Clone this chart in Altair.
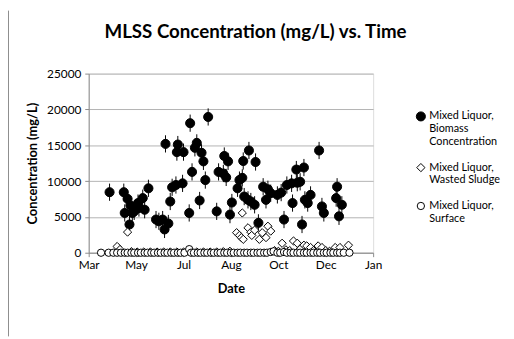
import altair as alt
import pandas as pd

# ---------------- data ----------------
bio_dates = [
    "2009-04-19", "2009-05-04", "2009-05-05", "2009-05-08", "2009-05-10", "2009-05-11",
    "2009-05-13", "2009-05-15", "2009-05-19", "2009-05-20", "2009-05-24", "2009-05-26",
    "2009-05-30", "2009-06-07", "2009-06-10", "2009-06-14", "2009-06-16", "2009-06-17",
    "2009-06-20", "2009-06-22", "2009-06-24", "2009-06-28", "2009-06-29", "2009-06-30",
    "2009-07-05", "2009-07-06", "2009-07-12", "2009-07-13", "2009-07-15", "2009-07-18",
    "2009-07-20", "2009-07-23", "2009-07-25", "2009-07-27", "2009-07-29", "2009-08-01",
    "2009-08-10", "2009-08-12", "2009-08-17", "2009-08-18", "2009-08-20", "2009-08-22",
    "2009-08-24", "2009-08-26", "2009-09-01", "2009-09-03", "2009-09-06", "2009-09-07",
    "2009-09-08", "2009-09-12", "2009-09-13", "2009-09-15", "2009-09-19", "2009-09-20",
    "2009-09-23", "2009-09-28", "2009-10-01", "2009-10-03", "2009-10-06", "2009-10-13",
    "2009-10-17", "2009-10-20", "2009-10-23", "2009-10-28", "2009-10-29", "2009-11-02",
    "2009-11-03", "2009-11-06", "2009-11-08", "2009-11-10", "2009-11-11", "2009-11-14",
    "2009-11-17", "2009-11-26", "2009-11-29", "2009-12-01", "2009-12-14", "2009-12-15",
    "2009-12-17", "2009-12-20",
]
bio_values = [
    8450, 8450, 5550, 7520, 3940, 6600,
    5550, 5770, 6930, 6240, 7620, 6000,
    8990, 4630, 4390, 4630, 3250, 15190,
    4080, 7150, 9130, 9450, 14040, 15100,
    9680, 14040, 5550, 18080, 11280, 14640,
    15330, 7290, 13950, 12750, 10140, 18950,
    5770, 11280, 11060, 13500, 10510, 12750,
    5320, 7010, 8990, 10140, 10450, 12800,
    7840, 7380, 14270, 7150, 6690, 12660,
    4170, 9210, 7380, 8860, 8310, 8070,
    8390, 4630, 9450, 9680, 6930, 11610,
    9770, 9900, 3940, 11890, 7380, 6930,
    8070, 14270, 6460, 5550, 7620, 9210,
    5080, 6690,
]
bio_error = 1200

wasted_dates = [
    "2009-04-27", "2009-04-30", "2009-05-08", "2009-05-12", "2009-05-18", "2009-05-25",
    "2009-06-01", "2009-06-08", "2009-06-15", "2009-06-22", "2009-06-29", "2009-07-06",
    "2009-07-13", "2009-07-20", "2009-07-27", "2009-08-03", "2009-08-10", "2009-08-17",
    "2009-08-24", "2009-08-31", "2009-09-03", "2009-09-05", "2009-09-06", "2009-09-07",
    "2009-09-12", "2009-09-15", "2009-09-16", "2009-09-19", "2009-09-24", "2009-09-27",
    "2009-10-01", "2009-10-03", "2009-10-06", "2009-10-10", "2009-10-14", "2009-10-18",
    "2009-10-22", "2009-10-26", "2009-10-30", "2009-11-03", "2009-11-06", "2009-11-10",
    "2009-11-13", "2009-11-17", "2009-11-20", "2009-11-25", "2009-11-29", "2009-12-03",
    "2009-12-07", "2009-12-13", "2009-12-18", "2009-12-27",
]
wasted_values = [
    870, 450, 2880, 150, 100, 100,
    100, 100, 100, 100, 100, 100,
    150, 100, 100, 100, 100, 150,
    200, 2800, 2420, 2110, 5550, 1870,
    3480, 2880, 2420, 3150, 1870, 2800,
    2110, 3700, 3020, 300, 200, 1320,
    400, 300, 1640, 1320, 500, 1050,
    950, 730, 300, 950, 730, 300,
    200, 730, 730, 1050,
]

surface_dates = [
    "2009-04-10", "2009-04-18", "2009-04-23", "2009-04-27", "2009-05-01", "2009-05-05",
    "2009-05-08", "2009-05-12", "2009-05-15", "2009-05-19", "2009-05-22", "2009-05-26",
    "2009-05-29", "2009-06-02", "2009-06-05", "2009-06-09", "2009-06-12", "2009-06-16",
    "2009-06-19", "2009-06-23", "2009-06-26", "2009-06-30", "2009-07-03", "2009-07-07",
    "2009-07-12", "2009-07-14", "2009-07-17", "2009-07-21", "2009-07-24", "2009-07-28",
    "2009-07-31", "2009-08-04", "2009-08-07", "2009-08-11", "2009-08-14", "2009-08-18",
    "2009-08-21", "2009-08-25", "2009-08-28", "2009-09-01", "2009-09-04", "2009-09-08",
    "2009-09-11", "2009-09-15", "2009-09-18", "2009-09-22", "2009-09-25", "2009-09-29",
    "2009-10-02", "2009-10-06", "2009-10-09", "2009-10-13", "2009-10-16", "2009-10-20",
    "2009-10-23", "2009-10-27", "2009-10-30", "2009-11-03", "2009-11-06", "2009-11-10",
    "2009-11-13", "2009-11-17", "2009-11-20", "2009-11-24", "2009-11-27", "2009-12-01",
    "2009-12-04", "2009-12-08", "2009-12-11", "2009-12-15", "2009-12-18", "2009-12-22",
    "2009-12-28",
]
surface_values = [
    0, 0, 0, 0, 0, 0,
    0, 0, 0, 0, 0, 0,
    0, 0, 0, 0, 0, 0,
    0, 0, 0, 0, 0, 0,
    500, 0, 0, 0, 0, 0,
    0, 0, 0, 0, 0, 0,
    0, 0, 0, 0, 0, 0,
    0, 0, 0, 0, 0, 0,
    0, 100, 200, 0, 0, 100,
    0, 0, 0, 0, 0, 0,
    0, 0, 0, 0, 0, 0,
    0, 0, 0, 0, 0, 0,
    0,
]

series_names = [
    "Mixed Liquor,|Biomass|Concentration",
    "Mixed Liquor,|Wasted Sludge",
    "Mixed Liquor,|Surface",
]
x_tick_dates = ["2009-03-28", "2009-05-17", "2009-07-06", "2009-08-25",
                "2009-10-14", "2009-12-03", "2010-01-22"]
y_ticks = [0, 5000, 10000, 15000, 20000, 25000]

# ---------------- tables ----------------
rows = []
for d, v in zip(bio_dates, bio_values):
    rows.append({"date": d, "value": v, "series": series_names[0]})
for d, v in zip(wasted_dates, wasted_values):
    rows.append({"date": d, "value": v, "series": series_names[1]})
for d, v in zip(surface_dates, surface_values):
    rows.append({"date": d, "value": v, "series": series_names[2]})
df = pd.DataFrame(rows)

err_df = pd.DataFrame({"date": bio_dates, "value": bio_values})
err_df["lo"] = err_df["value"] - bio_error
err_df["hi"] = err_df["value"] + bio_error

FONT = "Lato"

def dt(s):
    y, m, d = (int(p) for p in s.split("-"))
    return alt.DateTime(year=y, month=m, date=d)

x_scale = alt.Scale(domain=[dt(x_tick_dates[0]), dt(x_tick_dates[-1])])
y_scale = alt.Scale(domain=[0, 25000], nice=False)

x_axis = alt.Axis(
    values=[dt(s) for s in x_tick_dates], format="%b", grid=False,
    title="Date", titleFontWeight="bold", titleFontSize=13, titleFont=FONT,
    titlePadding=12, labelFont=FONT, labelFontSize=12, labelColor="#000",
    domainColor="#8c8c8c", tickColor="#8c8c8c", tickSize=4, labelPadding=3,
    labelFlush=False, titleColor="#000",
)
y_axis = alt.Axis(
    values=y_ticks, format="d", grid=True, gridColor="#b3b3b3", domainColor="#8c8c8c",
    tickColor="#8c8c8c", tickSize=4, labelPadding=4, labelFont=FONT,
    labelFontSize=12, labelColor="#000", title="Concentration (mg/L)",
    titleFont=FONT, titleFontSize=13, titleFontWeight="bold", titleColor="#000",
    titleAngle=270, titleX=-57, titleY=91, titleAlign="center", titleBaseline="middle",
)

errbars = alt.Chart(err_df).mark_rule(color="black", strokeWidth=1).encode(
    x=alt.X("date:T", scale=x_scale, axis=x_axis),
    y=alt.Y("lo:Q", scale=y_scale, axis=y_axis),
    y2="hi:Q",
)

legend = alt.Legend(
    title=None, orient="none", legendX=332, legendY=38, padding=0,
    labelExpr="split(datum.label, '|')", labelFont=FONT, labelFontSize=11,
    labelColor="#000", labelOffset=3, rowPadding=14, labelLimit=200,
    symbolStrokeWidth=1,
)

points = alt.Chart(df).mark_point(opacity=1, strokeWidth=1, stroke="black").encode(
    x=alt.X("date:T", scale=x_scale, axis=x_axis),
    y=alt.Y("value:Q", scale=y_scale, axis=y_axis),
    shape=alt.Shape("series:N", scale=alt.Scale(domain=series_names,
                    range=["circle", "diamond", "circle"]), legend=legend),
    fill=alt.Fill("series:N", scale=alt.Scale(domain=series_names,
                  range=["black", "white", "white"]), legend=legend),
    size=alt.Size("series:N", scale=alt.Scale(domain=series_names,
                  range=[85, 55, 55]), legend=legend),
)

border = alt.Chart(alt.Data(values=[{}])).mark_rule(color="#8c8c8c", strokeWidth=1).encode(
    x=alt.value(-81.5), y=alt.value(-64), y2=alt.value(267)
)

chart = alt.layer(border, errbars, points).properties(
    width=289, height=182,
    title=alt.TitleParams("MLSS Concentration (mg/L) vs. Time", font=FONT,
                          fontSize=19, fontWeight="bold", color="#000",
                          anchor="middle", frame="group", offset=-32, dx=25),
    autosize=alt.AutoSizeParams(type="none"),
    padding={"left": 82, "top": 64, "right": 135, "bottom": 85},
).configure_view(stroke=None).configure(background="white")

chart.save("out.html", embed_options={"renderer": "svg", "actions": False})
